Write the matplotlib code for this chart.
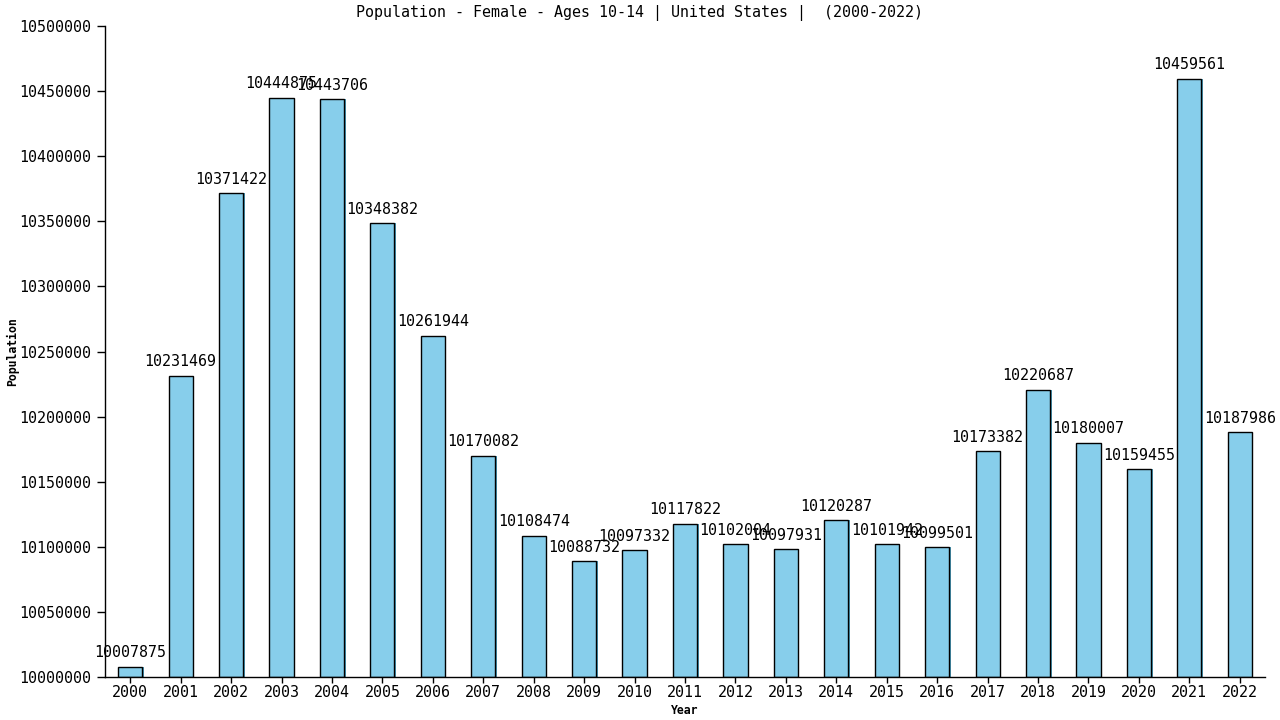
import numpy as np
import matplotlib
matplotlib.use("Agg")
import matplotlib.pyplot as plt

years = [str(y) for y in range(2000, 2023)]
population = [10007875, 10231469, 10371422, 10444875, 10443706, 10348382,
              10261944, 10170082, 10108474, 10088732, 10097332, 10117822,
              10102004, 10097931, 10120287, 10101942, 10099501, 10173382,
              10220687, 10180007, 10159455, 10459561, 10187986]
y_ticks = list(range(10000000, 10500001, 50000))


def main():
    plt.rcParams['font.family'] = ['DejaVu Sans Mono']
    fig = plt.figure(figsize=(12.8, 7.2), dpi=100)
    ax = fig.add_axes([105/1280, 43/720, 1160/1280, 651/720])

    x = np.arange(len(years))
    # little shadow offset to the right, like the original
    ax.bar(x + 0.03, np.array(population) - 10000000, bottom=10000000,
           width=0.48, color='#4a9ab8', linewidth=0, zorder=1)
    ax.bar(x, np.array(population) - 10000000, bottom=10000000, width=0.48,
           color='#87CEEB', edgecolor='black', linewidth=1, zorder=2)

    for xi, v in zip(x, population):
        ax.text(xi, v + 5000, str(v), ha='center', va='bottom',
                fontsize=10.8, color='black', zorder=3)

    ax.set_xlim(-0.5, len(years) - 0.5)
    ax.set_ylim(10000000, 10500000)
    ax.set_xticks(x)
    ax.set_xticklabels(years, fontsize=10.8)
    ax.set_yticks(y_ticks)
    ax.set_yticklabels([str(t) for t in y_ticks], fontsize=10.8)
    ax.tick_params(axis='x', direction='out', length=4, width=1, pad=2)
    ax.tick_params(axis='y', direction='out', length=6, width=1, pad=4)
    ax.spines['top'].set_visible(False)
    ax.spines['right'].set_visible(False)
    ax.spines['left'].set_linewidth(1)
    ax.spines['bottom'].set_linewidth(1)

    # axis titles placed by hand so they sit where the original has them
    fig.text(685/1280, 1 - 710/720, "Year", ha='center', va='center',
             fontsize=8.3, fontweight='bold')
    fig.text(13/1280, 1 - 352/720, "Population", ha='center', va='center',
             rotation=90, fontsize=8.3, fontweight='bold')
    fig.text(640/1280, 1 - 13/720,
             "Population - Female - Ages 10-14 | United States |  (2000-2022)",
             ha='center', va='center', fontsize=10.8)

    fig.savefig("out.png", dpi=100)


if __name__ == '__main__':
    main()
